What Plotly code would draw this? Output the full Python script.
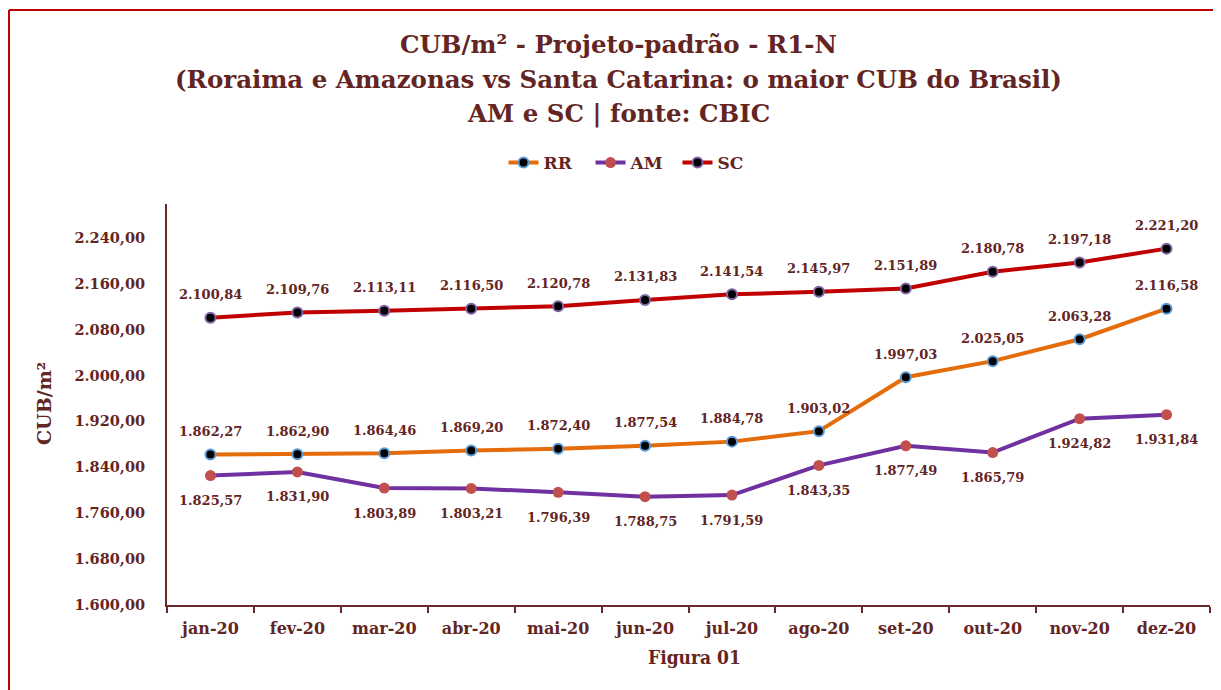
import plotly.graph_objects as go

months = ["jan-20", "fev-20", "mar-20", "abr-20", "mai-20", "jun-20",
          "jul-20", "ago-20", "set-20", "out-20", "nov-20", "dez-20"]
rr = [1862.27, 1862.90, 1864.46, 1869.20, 1872.40, 1877.54,
      1884.78, 1903.02, 1997.03, 2025.05, 2063.28, 2116.58]
am = [1825.57, 1831.90, 1803.89, 1803.21, 1796.39, 1788.75,
      1791.59, 1843.35, 1877.49, 1865.79, 1924.82, 1931.84]
sc = [2100.84, 2109.76, 2113.11, 2116.50, 2120.78, 2131.83,
      2141.54, 2145.97, 2151.89, 2180.78, 2197.18, 2221.20]
y_ticks = [1600, 1680, 1760, 1840, 1920, 2000, 2080, 2160, 2240]

TXT = "#632523"
FONT = "DejaVu Serif"

def br(v):
    s = f"{v:,.2f}"
    return s.replace(",", "X").replace(".", ",").replace("X", ".")

fig = go.Figure()
fig.add_trace(go.Scatter(
    x=months, y=rr, name="RR", mode="lines+markers",
    line=dict(color="#E46C0A", width=4),
    marker=dict(size=10, color="black", line=dict(color="#5B9BD5", width=2))))
fig.add_trace(go.Scatter(
    x=months, y=am, name="AM", mode="lines+markers",
    line=dict(color="#7030A0", width=4),
    marker=dict(size=11, color="#C0504D", line=dict(width=0))))
fig.add_trace(go.Scatter(
    x=months, y=sc, name="SC", mode="lines+markers",
    line=dict(color="#C00000", width=4),
    marker=dict(size=10, color="black", line=dict(color="#8064A2", width=2))))

annotations = []
for vals, shift in ((sc, 23), (rr, 23), (am, -25)):
    for m, v in zip(months, vals):
        annotations.append(dict(
            x=m, y=v, xref="x", yref="y", text=br(v), showarrow=False,
            yshift=shift, font=dict(family=FONT, size=13, color=TXT, weight="bold")))

# page body has an 8px margin: work in screen coords, shifted by OFF
OFF = 8
FW, FH = 1221, 690
SL, SR, ST, SB = 167, 1210, 204, 605   # plot area in screen pixels
L = SL - OFF
T = ST - OFF
R = FW - (SR - OFF)
B = FH - (SB - OFF)
W = FW - L - R
H = FH - T - B

def px(x):
    return (x - SL) / W

def py(y):
    return (SB - y) / H

titles = ["CUB/m² - Projeto-padrão - R1-N",
          "(Roraima e Amazonas vs Santa Catarina: o maior CUB do Brasil)",
          "AM e SC | fonte: CBIC"]
for t, yy in zip(titles, (45, 80, 113)):
    annotations.append(dict(
        x=px(618), y=py(yy), xref="paper", yref="paper", text=t, showarrow=False,
        xanchor="center", yanchor="middle",
        font=dict(family=FONT, size=24.5, color=TXT, weight="bold")))

annotations.append(dict(
    x=px(44), y=py(404), xref="paper", yref="paper", text="CUB/m²", showarrow=False,
    textangle=-90, xanchor="center", yanchor="middle",
    font=dict(family=FONT, size=19, color=TXT, weight="bold")))
annotations.append(dict(
    x=px(694), y=py(657), xref="paper", yref="paper", text="Figura 01", showarrow=False,
    xanchor="center", yanchor="middle",
    font=dict(family="DejaVu Serif Condensed, DejaVu Serif", size=19, color=TXT, weight="bold")))

shapes = [
    dict(type="line", xref="paper", yref="paper", x0=px(9), x1=px(9), y0=py(720), y1=py(10),
         line=dict(color="#C00000", width=2)),
    dict(type="line", xref="paper", yref="paper", x0=px(9), x1=px(1260), y0=py(10), y1=py(10),
         line=dict(color="#C00000", width=2)),
]

fig.update_layout(
    width=FW, height=FH,
    margin=dict(l=L, r=R, t=T, b=B, autoexpand=False),
    paper_bgcolor="white", plot_bgcolor="white",
    showlegend=True,
    legend=dict(orientation="h", x=px(634), y=py(163), xanchor="center", yanchor="middle",
                font=dict(family=FONT, size=17, color=TXT, weight="bold"),
                entrywidth=42, entrywidthmode="pixels",
                itemwidth=30, tracegroupgap=0, bgcolor="rgba(0,0,0,0)"),
    annotations=annotations, shapes=shapes,
    xaxis=dict(showgrid=False, showline=True, linecolor="#6B2A2A", linewidth=2,
               ticks="outside", tickcolor="#6B2A2A", ticklen=6, tickwidth=1.5,
               tickson="boundaries", ticklabelstandoff=8,
               tickfont=dict(family=FONT, size=16, color=TXT, weight="bold"),
               range=[-0.5, 11.5], fixedrange=True),
    yaxis=dict(showgrid=False, showline=True, linecolor="#6B2A2A", linewidth=2,
               ticks="", range=[1600, 2299], tickvals=y_ticks,
               ticktext=[br(v) for v in y_ticks], ticklabelstandoff=17,
               tickfont=dict(family=FONT, size=14.5, color=TXT, weight="bold"),
               zeroline=False),
)

fig.write_html("out.html")
